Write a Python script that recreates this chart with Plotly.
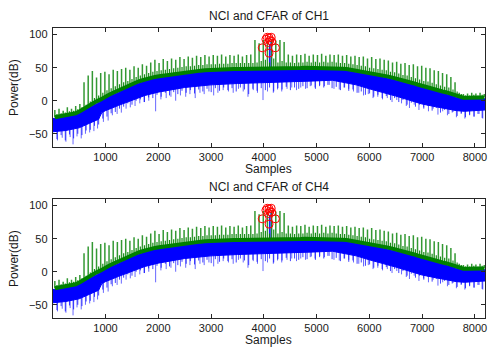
import plotly.graph_objects as go

# ---------------- data ----------------
# CFAR threshold: spike grid (sample index of each periodic spike)
spike_x = list(range(40, 8192, 79))
# threshold level at each spike position (dB)
green_base = [-25, -24, -23, -22, -20, -19, -16, -12, -8, -4, -1, 2, 6, 9, 12, 15, 18, 21, 24, 27,
              29, 31, 33, 35, 36, 37, 38, 39, 40, 41, 42, 43, 43.5, 44, 45, 45.5, 46, 46.5, 46.5, 47,
              47, 47.5, 48, 48, 48, 48, 48.5, 48.5, 49, 49, 49, 49, 49, 49, 49, 49, 49, 49, 49.5, 49.5,
              50, 50, 50, 50, 50, 50, 50, 49.5, 49, 48.5, 48, 47, 46, 45, 43.5, 42, 41, 40, 39, 38,
              36.5, 35, 33, 31.5, 30, 28, 26.5, 24.5, 22.5, 21, 19.5, 18, 16, 14, 12.5, 10.5, 7.5, 5.5, 4.5, 4.5,
              5, 5, 5, 5]
# tall spike top at each spike position (dB)
green_top = [-14, -12, -15, -10, -12, -8, -5, 28, 38, 45, 35, 42, 44, 40, 47, 45, 48, 50, 47, 52,
             50, 55, 53, 58, 62, 57, 63, 60, 64, 62, 66, 63, 67, 65, 68, 66, 69, 67, 69, 68,
             70, 67, 69, 68, 70, 67, 69, 70, 92, 87, 92, 90, 93, 91, 92, 89, 70, 68, 70, 69,
             71, 68, 70, 69, 71, 68, 70, 69, 70, 68, 69, 67, 68, 66, 67, 64, 66, 63, 64, 62,
             61, 58, 59, 56, 57, 54, 55, 52, 53, 50, 49, 46, 45, 42, 40, 36, 28, 12, 10, 11,
             12, 11, 12, 10]
# short spike top between tall spikes (dB)
green_minor = [-20, -19, -18, -16, -15, -13, -10, -6, -1, 4, 8, 12, 16, 19, 22, 25, 28, 30, 33, 36,
               38, 40, 42, 44, 45, 46, 47, 48, 49, 50, 51, 52, 52, 53, 54, 54, 55, 55, 55, 56,
               56, 56, 57, 57, 57, 57, 57, 57, 58, 60, 62, 58, 64, 58, 60, 58, 58, 57, 58, 58,
               59, 58, 59, 58, 59, 58, 59, 58, 57, 57, 56, 55, 54, 53, 52, 50, 49, 48, 47, 46,
               44, 43, 41, 39, 38, 36, 34, 32, 30, 29, 27, 25, 23, 21, 20, 17, 14, 10, 8, 8,
               9, 8, 9, 8]

# NCI envelope (dB)
env_x = [1, 250, 500, 750, 870, 930, 1000, 1250, 1500, 1750, 2000, 2250, 2500, 2750, 3000, 3500, 4000,
         4500, 5000, 5300, 5500, 5750, 6000, 6250, 6500, 6750, 7000, 7250, 7500, 7650, 7800, 8000, 8192]
blue_hi = [-27, -24, -18, -7, -3, 1, 4, 13, 23, 30, 35, 38, 41, 43, 44.5, 46, 47,
           47, 48, 48, 46.5, 43.5, 39.5, 36, 31.5, 26.5, 20.5, 15.5, 9.5, 5, 2.5, 3, 3]
blue_lo = [-47, -45, -41, -32, -28, -18, -15, -7, 1, 8, 13, 17, 20, 22, 24, 26, 27,
           28, 30, 31, 28, 24, 18, 13, 7, 1, -5, -9, -13, -15, -16, -15, -14]

# NCI dips between threshold spikes (bottom value, dB)
dip_grid_lo = [-58, -52, -60, -51, -57, -50, -52, -45, -44, -38, -36, -27, -24, -19, -17, -12, -9, -4, -6, 0,
               2, -2, 5, 4, 9, 6, 12, 8, 13, 10, 15, 12, 16, 11, 17, 14, 18, 13, 19, 15,
               20, 16, 19, 14, 20, 17, 10, 18, 15, 19, 16, 20, 14, 19, 17, 21, 16, 20, 18, 22,
               19, 23, 18, 22, 20, 24, 19, 21, 16, 20, 15, 17, 12, 14, 9, 11, 6, 9, 4, 7,
               1, 4, -2, 1, -6, -3, -9, -6, -12, -8, -15, -11, -18, -14, -20, -17, -23, -19, -25, -21,
               -24, -20, -26, -22]

# extra NCI dips: sample, dip start, dip bottom (dB)
dip_x = [90, 180, 250, 330, 385, 460, 540, 620, 700, 780, 850, 960, 1050, 1130, 1220, 1300, 1390, 1470,
         1560, 1650, 1730, 1820, 1950, 2050, 2150, 2240, 2330, 2420, 2520, 2600, 2700, 2790, 2870, 2960,
         3050, 3130, 3230, 3330, 3420, 3520, 3610, 3700, 3800, 3880, 3985, 4070, 4180, 4260, 4340, 4440,
         4530, 4620, 4700, 4790, 4880, 4970, 5060, 5150, 5240, 5330, 5430, 5520, 5610, 5700, 5800, 5890,
         5980, 6070, 6160, 6250, 6340, 6430, 6520, 6610, 6700, 6760, 6850, 6940, 7030, 7120, 7210, 7300,
         7390, 7480, 7570, 7650, 7740, 7810, 7900, 7990, 8080, 8150]
dip_top = [-40, -40, -38, -38, -36, -35, -32, -28, -24, -20, -18, -10, -8, -4, 0, 2, 6, 10,
           12, 14, 16, 18, 20, 22, 24, 25, 26, 27, 28, 29, 30, 30, 31, 32,
           32, 33, 33, 34, 34, 35, 35, 35, 35, 36, 36, 36, 36, 36, 36, 37,
           37, 37, 38, 38, 38, 38, 39, 39, 39, 39, 38, 37, 35, 33, 31, 29,
           27, 25, 23, 21, 19, 16, 14, 12, 10, 9, 6, 4, 2, 0, -2, -4,
           -6, -8, -10, -11, -12, -12, -12, -12, -11, -11]
dip_lo = [-60, -56, -62, -55, -66, -54, -57, -50, -48, -46, -42, -32, -30, -22, -20, -18, -12, -10,
          -8, -4, -2, 0, -16, 2, 4, 6, 0, 8, 6, 10, 4, 12, 10, 14,
          8, 12, 16, 14, 12, 18, 14, 6, 16, 12, 1, 14, 12, 17, 14, 18,
          20, 16, 20, 18, 22, 20, 24, 22, 24, 18, 17, 20, 18, 14, 12, 8,
          10, 4, 6, 2, 4, -2, 1, -4, -8, -11, -6, -14, -10, -16, -12, -21,
          -16, -22, -18, -25, -20, -27, -22, -24, -20, -27]

# NCI target peak
peak_x = [4110, 4135]
peak_lo = [44, 44]
peak_hi = [86, 90]

# CFAR detections
det_x = [3970, 4040, 4065, 4090, 4100, 4115, 4140, 4150, 4220, 4100]
det_y = [80, 93, 96, 88, 95, 91, 96, 90, 80, 72]

channels = ["CH1", "CH4"]

x_ticks = [1000, 2000, 3000, 4000, 5000, 6000, 7000, 8000]
y_ticks = [-50, 0, 50, 100]

# ---------------- figure ----------------
W, H = 490, 349
FONT = "Liberation Sans, Arial, sans-serif"
TXT = "#1a1a1a"

fig = go.Figure()

plot_px = [(28, 147), (199, 318)]   # top/bottom pixel rows of each axes box
x_px = (53, 487)
HALF = 40  # dips / short spikes sit half way between tall spikes


def segs(xs, a, b):
    X, Y = [], []
    for x, y0, y1 in zip(xs, a, b):
        X += [x, x, None]
        Y += [y0, y1, None]
    return X, Y


mid_x = [s + HALF for s in spike_x]

for k, ch in enumerate(channels):
    xa = "x" if k == 0 else "x2"
    ya = "y" if k == 0 else "y2"
    # blue dips (beneath band)
    X, Y = segs(dip_x, dip_top, dip_lo)
    fig.add_trace(go.Scatter(x=X, y=Y, mode="lines", xaxis=xa, yaxis=ya,
                             line=dict(color="rgba(0,0,255,0.6)", width=1), hoverinfo="skip"))
    X, Y = segs(mid_x, green_base, dip_grid_lo)
    fig.add_trace(go.Scatter(x=X, y=Y, mode="lines", xaxis=xa, yaxis=ya,
                             line=dict(color="rgba(0,0,255,0.75)", width=1), hoverinfo="skip"))
    # blue band
    fig.add_trace(go.Scatter(x=env_x, y=blue_lo, mode="lines", xaxis=xa, yaxis=ya,
                             line=dict(color="#0000ff", width=1), hoverinfo="skip"))
    fig.add_trace(go.Scatter(x=env_x, y=blue_hi, mode="lines", xaxis=xa, yaxis=ya, fill="tonexty",
                             fillcolor="#0000ff", line=dict(color="#0000ff", width=1), hoverinfo="skip"))
    # NCI target peak
    X, Y = segs(peak_x, peak_lo, peak_hi)
    fig.add_trace(go.Scatter(x=X, y=Y, mode="lines", xaxis=xa, yaxis=ya,
                             line=dict(color="#0000ff", width=1), hoverinfo="skip"))
    # green spikes
    X, Y = segs(spike_x, green_base, green_top)
    fig.add_trace(go.Scatter(x=X, y=Y, mode="lines", xaxis=xa, yaxis=ya,
                             line=dict(color="rgba(0,128,0,0.8)", width=1.5), hoverinfo="skip"))
    X, Y = segs(mid_x, green_base, green_minor)
    fig.add_trace(go.Scatter(x=X, y=Y, mode="lines", xaxis=xa, yaxis=ya,
                             line=dict(color="rgba(0,128,0,0.9)", width=1.2), hoverinfo="skip"))
    # green threshold band
    fig.add_trace(go.Scatter(x=spike_x, y=green_base, mode="lines", xaxis=xa, yaxis=ya,
                             line=dict(color="#008000", width=4), hoverinfo="skip"))
    # detections
    fig.add_trace(go.Scatter(x=det_x, y=det_y, mode="markers", xaxis=xa, yaxis=ya,
                             marker=dict(symbol="circle-open", size=8, color="#ff0000",
                                         line=dict(width=1, color="#ff0000")), hoverinfo="skip"))

    top, bot = plot_px[k]
    cx = (x_px[0] + x_px[1]) / 2 / W
    fig.add_annotation(text="NCI and CFAR of " + ch, x=cx, y=1 - (top - 12.5) / H, xref="paper", yref="paper",
                       showarrow=False, xanchor="center", yanchor="middle",
                       font=dict(family=FONT, size=12, color=TXT))
    fig.add_annotation(text="Samples", x=cx, y=1 - (bot + 22) / H, xref="paper", yref="paper",
                       showarrow=False, xanchor="center", yanchor="middle",
                       font=dict(family=FONT, size=12, color=TXT))
    fig.add_annotation(text="Power(dB)", x=13.5 / W, y=1 - (top + bot) / 2 / H, xref="paper", yref="paper",
                       showarrow=False, xanchor="center", yanchor="middle", textangle=-90,
                       font=dict(family=FONT, size=12, color=TXT))

axis_common = dict(showline=True, linecolor="#262626", linewidth=1, mirror="ticks", ticks="inside",
                   ticklen=4, tickcolor="#262626", showgrid=False, zeroline=False,
                   tickfont=dict(family=FONT, size=11, color=TXT))

for k in range(2):
    top, bot = plot_px[k]
    xd = [x_px[0] / W, x_px[1] / W]
    yd = [1 - bot / H, 1 - top / H]
    xname = "xaxis" if k == 0 else "xaxis2"
    yname = "yaxis" if k == 0 else "yaxis2"
    fig.update_layout(**{
        xname: dict(domain=xd, range=[1, 8192], tickvals=x_ticks, anchor="y" if k == 0 else "y2",
                    **axis_common),
        yname: dict(domain=yd, range=[-70, 110], tickvals=y_ticks, anchor="x" if k == 0 else "x2",
                    ticklabelstandoff=2, **axis_common),
    })

fig.update_layout(width=W, height=H, margin=dict(l=0, r=0, t=0, b=0), showlegend=False,
                  paper_bgcolor="white", plot_bgcolor="white")

fig.write_html("out.html")
